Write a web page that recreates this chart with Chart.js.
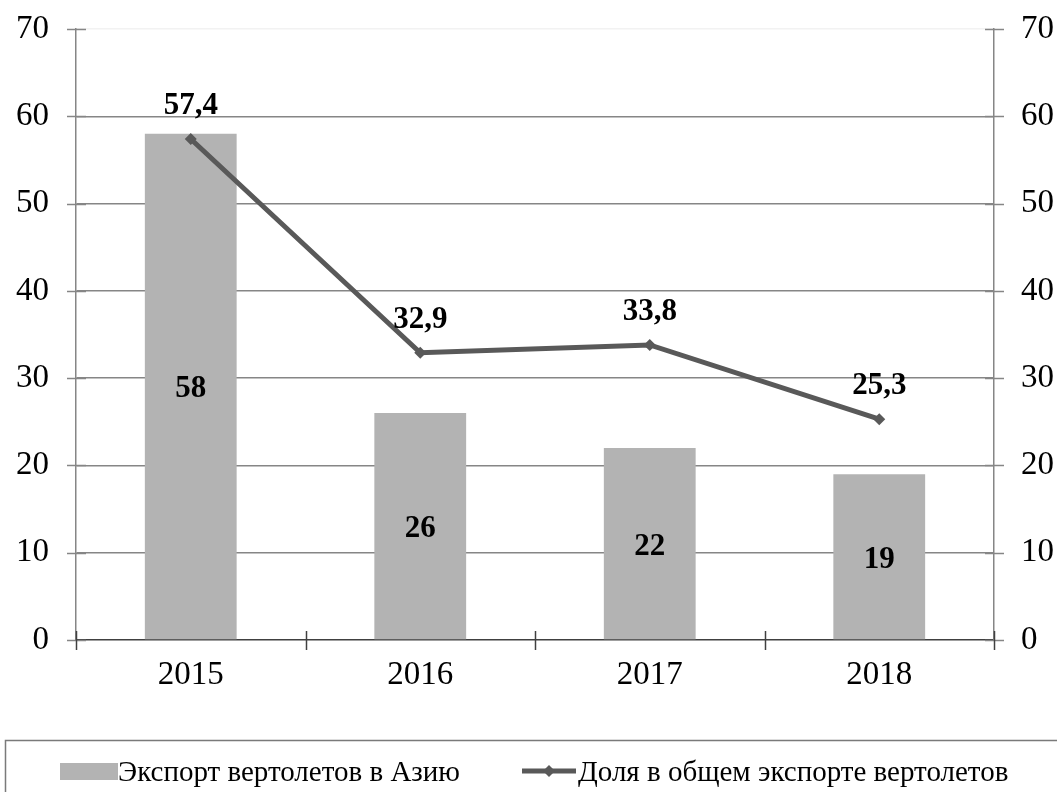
<!DOCTYPE html>
<html>
<head>
<meta charset="utf-8">
<script src="https://cdn.jsdelivr.net/npm/chart.js@4/dist/chart.umd.min.js"></script>
<style>
html,body{margin:0;padding:0;background:#fff;}
#wrap{width:1057px;height:792px;position:relative;}
</style>
</head>
<body>
<div id="wrap"><canvas id="c" width="1057" height="792"></canvas></div>
<script>
const categories = ['2015', '2016', '2017', '2018'];
const exportValues = [58, 26, 22, 19];
const shareValues = [57.4, 32.9, 33.8, 25.3];
const exportLabel = 'Экспорт вертолетов в Азию';
const shareLabel = 'Доля в общем экспорте вертолетов';
const yMin = 0, yMax = 70, yStep = 10;

const FONT = "'Liberation Serif', 'Times New Roman', serif";
const BAR_COLOR = '#b3b3b3';
const LINE_COLOR = '#595959';
const GRID_COLOR = '#868686';

const decorPlugin = {
  id: 'decor',
  afterDatasetsDraw(chart) {
    const ctx = chart.ctx;
    const x = chart.scales.x, y = chart.scales.y, y2 = chart.scales.y2;
    const ca = chart.chartArea;
    ctx.save();
    ctx.lineWidth = 1.5;
    ctx.strokeStyle = GRID_COLOR;
    y.ticks.forEach(t => {
      const py = Math.round(y.getPixelForValue(t.value)) + 0.5;
      ctx.beginPath(); ctx.moveTo(ca.left - 9, py); ctx.lineTo(ca.left + 10, py); ctx.stroke();
    });
    y2.ticks.forEach(t => {
      const py = Math.round(y2.getPixelForValue(t.value)) + 0.5;
      ctx.beginPath(); ctx.moveTo(ca.right - 9, py); ctx.lineTo(ca.right + 10, py); ctx.stroke();
    });
    ctx.strokeStyle = '#404040';
    const half = (x.getPixelForValue(1) - x.getPixelForValue(0)) / 2;
    for (let i = 0; i <= categories.length; i++) {
      const px = Math.round(x.getPixelForValue(i) - half) + 0.5;
      ctx.beginPath(); ctx.moveTo(px, ca.bottom - 9); ctx.lineTo(px, ca.bottom + 10); ctx.stroke();
    }
    ctx.fillStyle = '#000';
    ctx.font = 'bold 31px ' + FONT;
    ctx.textAlign = 'center';
    ctx.textBaseline = 'alphabetic';
    const barMeta = chart.getDatasetMeta(0);
    barMeta.data.forEach((el, i) => {
      const mid = (el.y + el.base) / 2;
      ctx.fillText(String(exportValues[i]).replace('.', ','), el.x, mid + 11);
    });
    const lineMeta = chart.getDatasetMeta(1);
    lineMeta.data.forEach((el, i) => {
      ctx.fillText(shareValues[i].toFixed(1).replace('.', ','), el.x, el.y - 25);
    });
    ctx.strokeStyle = '#7a7a7a';
    ctx.lineWidth = 1.5;
    ctx.strokeRect(5.5, 740.5, 1070, 70);
    ctx.fillStyle = BAR_COLOR;
    ctx.fillRect(60, 763, 58, 17);
    ctx.fillStyle = '#000';
    ctx.font = '29px ' + FONT;
    ctx.textAlign = 'left';
    ctx.fillText(exportLabel, 118, 781);
    ctx.strokeStyle = LINE_COLOR;
    ctx.lineWidth = 5;
    ctx.beginPath(); ctx.moveTo(522, 771); ctx.lineTo(576, 771); ctx.stroke();
    ctx.fillStyle = LINE_COLOR;
    ctx.beginPath(); ctx.moveTo(549, 765); ctx.lineTo(555, 771); ctx.lineTo(549, 777); ctx.lineTo(543, 771); ctx.closePath(); ctx.fill();
    ctx.fillStyle = '#000';
    ctx.fillText(shareLabel, 578, 781);
    ctx.restore();
  }
};

function fixY(width) {
  return function (s) { s.width = width; s.paddingTop = 0; s.paddingBottom = 0; };
}

new Chart(document.getElementById('c'), {
  data: {
    labels: categories,
    datasets: [
      {
        type: 'bar',
        label: exportLabel,
        data: exportValues,
        backgroundColor: BAR_COLOR,
        borderWidth: 0,
        barPercentage: 0.4,
        categoryPercentage: 1.0,
        order: 2,
        yAxisID: 'y'
      },
      {
        type: 'line',
        label: shareLabel,
        data: shareValues,
        borderColor: LINE_COLOR,
        backgroundColor: LINE_COLOR,
        borderWidth: 5,
        pointStyle: 'rectRot',
        pointRadius: 6,
        pointHoverRadius: 6,
        pointBorderWidth: 0,
        tension: 0,
        order: 1,
        yAxisID: 'y'
      }
    ]
  },
  options: {
    responsive: false,
    animation: false,
    events: [],
    layout: { padding: { top: 29, left: 0, right: 0, bottom: 0 } },
    plugins: { legend: { display: false }, tooltip: { enabled: false } },
    scales: {
      x: {
        type: 'category',
        offset: true,
        grid: { display: true, drawOnChartArea: false, drawTicks: false, offset: true },
        border: { display: true, color: '#404040', width: 1.5 },
        ticks: { color: '#000', font: { family: FONT, size: 33 }, padding: 16 },
        afterFit(s) { s.height = 152; s.paddingLeft = 0; s.paddingRight = 0; }
      },
      y: {
        position: 'left',
        min: yMin, max: yMax,
        ticks: { stepSize: yStep, color: '#000', font: { family: FONT, size: 33 }, padding: 27 },
        grid: {
          drawTicks: false,
          color: ctx => (ctx.tick && ctx.tick.value === yMax) ? '#f2f2f2' : (ctx.tick && ctx.tick.value === yMin ? 'rgba(0,0,0,0)' : GRID_COLOR),
          lineWidth: 1.5
        },
        border: { display: true, color: GRID_COLOR, width: 1.5 },
        afterFit: fixY(76)
      },
      y2: {
        position: 'right',
        min: yMin, max: yMax,
        ticks: { stepSize: yStep, color: '#000', font: { family: FONT, size: 33 }, padding: 27 },
        grid: { drawOnChartArea: false, drawTicks: false },
        border: { display: true, color: GRID_COLOR, width: 1.5 },
        afterFit: fixY(63)
      }
    }
  },
  plugins: [decorPlugin]
});
</script>
</body>
</html>
